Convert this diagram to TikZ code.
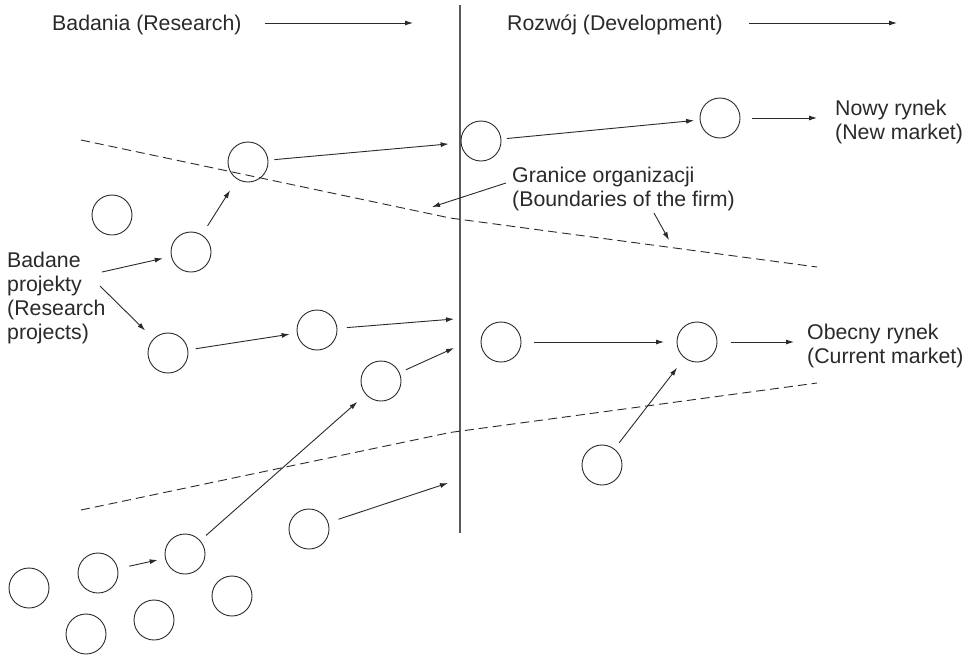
\documentclass[tikz,border=0pt]{standalone}
\usepackage{fontspec}
\setmainfont{Liberation Sans}
\usetikzlibrary{arrows.meta}
\definecolor{ink}{HTML}{2A2A2A}
\definecolor{axis}{HTML}{5A5A5A}
\begin{document}
\begin{tikzpicture}[x=1pt,y=-1pt,
  proj/.style={circle,draw=ink,line width=0.9pt,minimum size=40pt,inner sep=0pt,outer sep=0pt},
  lbl/.style={font=\fontsize{21.3}{24}\selectfont,text=ink,inner sep=0pt,align=left,anchor=base west},
  flow/.style={draw=ink,line width=0.9pt,-{Latex[length=8pt,width=5pt]}},
  bound/.style={draw=ink,line width=0.9pt,dash pattern=on 9pt off 5pt},
]
\useasboundingbox[fill=white] (0,0) rectangle (968,656);

% labels (anchor = baseline of the last line)
\node[lbl] (badania) at (52,30) {Badania (Research)};
\node[lbl] (rozwoj) at (507,30) {Rozwój (Development)};
\node[lbl] (nowy) at (835,139) {Nowy rynek\\(New market)};
\node[lbl] (granice) at (512,206) {Granice organizacji\\(Boundaries of the firm)};
\node[lbl] (badane) at (7,339) {Badane\\projekty\\(Research\\projects)};
\node[lbl] (obecny) at (807,363) {Obecny rynek\\(Current market)};

% divider
\coordinate (vtop) at (460,5);
\coordinate (vbot) at (460,533);
\draw[axis,line width=1.2pt] (vtop) -- (vbot);

% boundaries of the firm
\coordinate (u1) at (81,140);
\coordinate (u2) at (450,218);
\coordinate (u3) at (817,267);
\coordinate (l1) at (81,510);
\coordinate (l2) at (450,432.5);
\coordinate (l3) at (817,383);
\draw[bound] (u1) -- (u2) -- (u3);
\draw[bound] (l1) -- (l2) -- (l3);

% projects
\node[proj] (c1) at (248,162) {};
\node[proj] (c2) at (481,141) {};
\node[proj] (c3) at (720,118) {};
\node[proj] (c4) at (112,215) {};
\node[proj] (c5) at (191,252) {};
\node[proj] (c6) at (168,353) {};
\node[proj] (c7) at (317,330) {};
\node[proj] (c8) at (381,381) {};
\node[proj] (c9) at (501,342) {};
\node[proj] (c10) at (697,342) {};
\node[proj] (c11) at (602,465) {};
\node[proj] (c12) at (309,529) {};
\node[proj] (c13) at (185,554) {};
\node[proj] (c14) at (98,573) {};
\node[proj] (c15) at (29,588) {};
\node[proj] (c16) at (232,596) {};
\node[proj] (c17) at (154,620) {};
\node[proj] (c18) at (86,634) {};

% header arrows
\coordinate (h1a) at (265,23);
\coordinate (h1b) at (413,23);
\coordinate (h2a) at (749,23);
\coordinate (h2b) at (897,23);
\draw[flow] (h1a) -- (h1b);
\draw[flow] (h2a) -- (h2b);

% free ends
\coordinate (p1) at (102,272);
\coordinate (p2) at (100,286);
\coordinate (v1) at (454,319);
\coordinate (v2) at (454,348);
\coordinate (v3) at (448,483);
\coordinate (g1) at (506,183);
\coordinate (g2) at (432,207);
\coordinate (g3) at (654,213);
\coordinate (g4) at (669,240);

% flows
\draw[flow,shorten <=6.5pt,shorten >=12.5pt] (c1) -- (c2);
\draw[flow,shorten <=6pt,shorten >=6pt] (c2) -- (c3);
\draw[flow,shorten <=12pt,shorten >=18pt] (c3.east) -- (c3.east -| nowy.west);
\draw[flow,shorten <=11pt,shorten >=13.5pt] (c5) -- (c1);
\draw[flow,shorten >=9pt] (p1) -- (c5);
\draw[flow,shorten >=12pt] (p2) -- (c6);
\draw[flow,shorten <=8pt,shorten >=7.7pt] (c6) -- (c7);
\draw[flow,shorten <=10pt] (c7) -- (v1);
\draw[flow,shorten <=7.3pt] (c8) -- (v2);
\draw[flow,shorten <=8pt,shorten >=11.6pt] (c13) -- (c8);
\draw[flow,shorten <=12pt,shorten >=8pt] (c14) -- (c13);
\draw[flow,shorten <=11pt] (c12) -- (v3);
\draw[flow,shorten <=13pt,shorten >=13pt] (c9) -- (c10);
\draw[flow,shorten <=14pt,shorten >=13pt] (c10.east) -- (c10.east -| obecny.west);
\draw[flow,shorten <=8pt,shorten >=12.6pt] (c11) -- (c10);
\draw[flow] (g1) -- (g2);
\draw[flow] (g3) -- (g4);
\end{tikzpicture}
\end{document}
